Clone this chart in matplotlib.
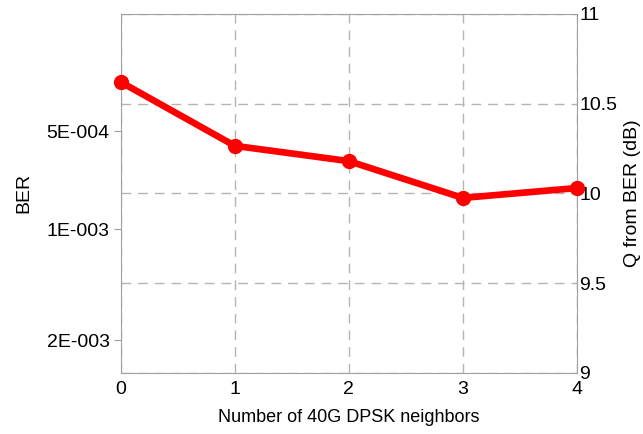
import math
import matplotlib
matplotlib.use("Agg")
import matplotlib.pyplot as plt

# data
neighbors = [0, 1, 2, 3, 4]
q_db = [10.62, 10.265, 10.18, 9.975, 10.03]
q_ticks = [9, 9.5, 10, 10.5, 11]
q_ticklabels = ["9", "9.5", "10", "10.5", "11"]
ber_ticks = [5e-4, 1e-3, 2e-3]
ber_ticklabels = ["5E-004", "1E-003", "2E-003"]


def erfcinv(y):
    # simple bisection, good enough for tick placement
    lo, hi = 0.0, 10.0
    for _ in range(100):
        mid = 0.5 * (lo + hi)
        if math.erfc(mid) > y:
            lo = mid
        else:
            hi = mid
    return 0.5 * (lo + hi)


def ber_to_qdb(ber):
    return 20 * math.log10(math.sqrt(2) * erfcinv(2 * ber))


plt.rcParams['font.family'] = ['Liberation Sans', 'DejaVu Sans']
plt.rcParams['font.size'] = 13

fig = plt.figure(figsize=(6.43, 4.34), dpi=100)
ax = fig.add_axes([0.188, 0.1406, 0.709, 0.8274])

ax.plot(neighbors, q_db, color='#ff0000', lw=4.8, marker='o', ms=10, clip_on=False, zorder=5)
ax.set_xlim(0, 4)
ax.set_ylim(9, 11)
ax.set_xticks(neighbors)
ax.tick_params(axis='x', length=0, pad=6, labelsize=14)
ax.set_xlabel('Number of 40G DPSK neighbors', labelpad=8)
ax.grid(True, color='#b4b4b4', linestyle=(0, (7, 5)), lw=1)
for s in ax.spines.values():
    s.set_color('#a0a0a0')

# left BER axis on the same Q scale
axl = ax.twinx()
axl.set_ylim(9, 11)
axl.yaxis.tick_left()
axl.yaxis.set_label_position('left')
axl.set_yticks([ber_to_qdb(b) for b in ber_ticks])
axl.set_yticklabels(ber_ticklabels)
axl.tick_params(axis='y', length=5, color='#a0a0a0', pad=3, labelsize=14)
axl.set_ylabel('BER', labelpad=10, fontsize=14)
for s in axl.spines.values():
    s.set_visible(False)

# Q axis on the right
ax.yaxis.tick_right()
ax.yaxis.set_label_position('right')
ax.set_yticks(q_ticks)
ax.set_yticklabels(q_ticklabels)
ax.tick_params(axis='y', length=0, pad=2, labelsize=14)
ax.set_ylabel('Q from BER (dB)', rotation=90, labelpad=5, fontsize=14)

fig.savefig('out.png', dpi=100)
